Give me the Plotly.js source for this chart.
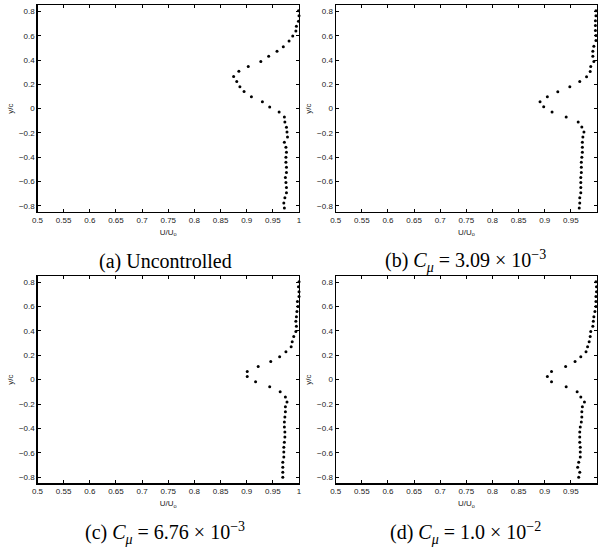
<!DOCTYPE html>
<html>
<head>
<meta charset="utf-8">
<script src="https://cdn.plot.ly/plotly-3.0.1.min.js"></script>
<style>html,body{margin:0;padding:0;background:#fff}#chart{width:598px;height:550px}</style>
</head>
<body>
<div id="chart"></div>
<script>
// y/c stations (top to bottom)
const yA = [0.805,0.764,0.718,0.677,0.639,0.598,0.557,0.510,0.472,0.431,0.387,0.346,0.308,0.264,0.223,0.180,0.142,0.098,0.057,0.013,-0.028,-0.069,-0.110,-0.154,-0.192,-0.233,-0.277,-0.318,-0.358,-0.399,-0.440,-0.481,-0.525,-0.566,-0.607,-0.648,-0.692,-0.732,-0.776,-0.817];
const uA = [0.999,1.000,0.999,0.995,0.994,0.988,0.981,0.970,0.958,0.942,0.927,0.903,0.885,0.875,0.881,0.887,0.895,0.909,0.930,0.944,0.962,0.972,0.973,0.976,0.977,0.978,0.972,0.975,0.976,0.975,0.975,0.976,0.976,0.974,0.975,0.976,0.976,0.973,0.971,0.972];

const yB = [0.805,0.764,0.723,0.683,0.642,0.601,0.560,0.513,0.472,0.431,0.387,0.346,0.305,0.262,0.223,0.180,0.139,0.098,0.057,0.016,-0.028,-0.069,-0.110,-0.151,-0.192,-0.233,-0.277,-0.318,-0.358,-0.399,-0.440,-0.481,-0.525,-0.566,-0.607,-0.648,-0.692,-0.732,-0.776,-0.817];
const uB = [0.998,0.998,0.997,0.997,0.997,0.998,0.998,0.994,0.992,0.992,0.994,0.988,0.987,0.980,0.967,0.948,0.925,0.905,0.891,0.898,0.914,0.941,0.964,0.971,0.975,0.973,0.972,0.972,0.972,0.971,0.970,0.970,0.970,0.969,0.969,0.969,0.969,0.967,0.967,0.966];

const yC = [0.803,0.762,0.721,0.681,0.640,0.600,0.559,0.516,0.478,0.437,0.394,0.353,0.310,0.269,0.229,0.188,0.148,0.107,0.066,0.026,-0.018,-0.058,-0.099,-0.142,-0.183,-0.223,-0.264,-0.307,-0.348,-0.388,-0.429,-0.470,-0.513,-0.554,-0.594,-0.635,-0.678,-0.719,-0.759,-0.800];
const uC = [1.000,0.999,1.000,1.000,0.997,0.998,0.996,0.995,0.994,0.995,0.994,0.990,0.987,0.985,0.975,0.963,0.946,0.922,0.901,0.901,0.917,0.944,0.964,0.974,0.977,0.974,0.974,0.973,0.972,0.972,0.973,0.973,0.972,0.971,0.971,0.971,0.969,0.969,0.969,0.969];

const yD = [0.803,0.762,0.721,0.681,0.640,0.600,0.559,0.516,0.478,0.437,0.394,0.353,0.310,0.269,0.229,0.188,0.148,0.107,0.066,0.026,-0.018,-0.058,-0.099,-0.142,-0.183,-0.223,-0.264,-0.307,-0.348,-0.388,-0.429,-0.470,-0.513,-0.554,-0.594,-0.635,-0.678,-0.719,-0.759,-0.800];
const uD = [0.998,0.999,0.999,0.998,0.998,0.998,0.996,0.994,0.993,0.992,0.988,0.987,0.985,0.982,0.979,0.969,0.958,0.940,0.913,0.905,0.913,0.941,0.962,0.969,0.976,0.972,0.971,0.971,0.970,0.968,0.967,0.967,0.967,0.968,0.968,0.968,0.965,0.963,0.967,0.965];

const xTickVals = [0.5,0.55,0.6,0.65,0.7,0.75,0.8,0.85,0.9,0.95,1];
const xTickText = ['0.5','0.55','0.6','0.65','0.7','0.75','0.8','0.85','0.9','0.95','1'];
const yTickVals = [-0.8,-0.6,-0.4,-0.2,0,0.2,0.4,0.6,0.8];
const yTickText = ['\u22120.8','\u22120.6','\u22120.4','\u22120.2','0','0.2','0.4','0.6','0.8'];

const captions = [
  '(a) Uncontrolled',
  '(b) <i>C</i><sub><i>\u03bc</i></sub> = 3.09 \u00d7 10<sup>\u22123</sup>',
  '(c) <i>C</i><sub><i>\u03bc</i></sub> = 6.76 \u00d7 10<sup>\u22123</sup>',
  '(d) <i>C</i><sub><i>\u03bc</i></sub> = 1.0 \u00d7 10<sup>\u22122</sup>'
];

const series = [[uA,yA],[uB,yB],[uC,yC],[uD,yD]];
const W = 598, H = 550;
const xDom = [[37.5/W, 299/W],[335.7/W, 597/W]];
const yDom = [[1-212/H, 1-5.3/H],[1-483.3/H, 1-276/H]];

const traces = series.map((s,i)=>({
  type:'scatter', mode:'markers', x:s[0], y:s[1],
  xaxis: i===0?'x':'x'+(i+1), yaxis: i===0?'y':'y'+(i+1),
  marker:{color:'#000', size:3, symbol:'circle'},
  showlegend:false, hoverinfo:'skip', cliponaxis:false
}));

const tickFont = {family:'"Liberation Sans", Arial, sans-serif', size:8, color:'#222'};
const layout = {
  width:W, height:H, margin:{l:0,r:0,t:0,b:0},
  paper_bgcolor:'#fff', plot_bgcolor:'#fff', showlegend:false,
  annotations:[]
};
for (let i=0;i<4;i++){
  const col = i%2, row = Math.floor(i/2);
  const xn = i===0?'xaxis':'xaxis'+(i+1);
  const yn = i===0?'yaxis':'yaxis'+(i+1);
  layout[xn] = {
    domain:xDom[col], range:[0.5,1], anchor: i===0?'y':'y'+(i+1),
    tickmode:'array', tickvals:xTickVals, ticktext:xTickText,
    ticks:'inside', ticklen:3, tickwidth:1, tickcolor:'#000',
    showline:true, linecolor:'#000', linewidth:1.2, mirror:'ticks',
    showgrid:false, zeroline:false, tickfont:tickFont,
    title:{text:'U/U<sub>o</sub>', font:tickFont, standoff:5}
  };
  layout[yn] = {
    domain:yDom[row], range:[-0.85,0.85], anchor: i===0?'x':'x'+(i+1),
    tickmode:'array', tickvals:yTickVals, ticktext:yTickText,
    ticks:'inside', ticklen:3, tickwidth:1, tickcolor:'#000',
    showline:true, linecolor:'#000', linewidth:1.2, mirror:'ticks',
    showgrid:false, zeroline:false, tickfont:tickFont,
    title:{text:'y/c', font:tickFont, standoff:4}
  };
  layout.annotations.push({
    xref:'paper', yref:'paper', x: col===0 ? 165/W : 465/W,
    y: row===0 ? 1-261/H : 1-533/H, xanchor:'center', yanchor:'middle',
    showarrow:false, text:captions[i],
    font:{family:'"Liberation Serif", "Times New Roman", serif', size:20, color:'#000'}
  });
}
Plotly.newPlot('chart', traces, layout, {staticPlot:true, displayModeBar:false});
</script>
</body>
</html>
